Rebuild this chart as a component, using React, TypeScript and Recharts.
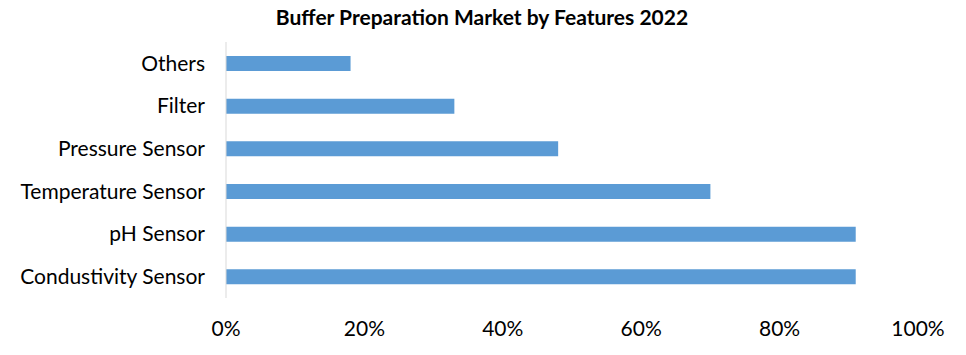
import { BarChart, Bar, XAxis, YAxis } from 'recharts'

const features = ['Others', 'Filter', 'Pressure Sensor', 'Temperature Sensor', 'pH Sensor', 'Condustivity Sensor']
const shares = [18, 33, 48, 70, 91, 91]
const xTicks = [0, 20, 40, 60, 80, 100]

const chartData = features.map((name, i) => ({ name, value: shares[i] }))

const font = 'Lato, "Open Sans", sans-serif'

export default function App() {
  return (
    <div style={{ position: 'absolute', left: 0, top: 0, width: 966, height: 355, background: '#fff', fontFamily: font }}>
      <div
        style={{
          position: 'absolute',
          left: 0,
          width: 964,
          top: 4,
          textAlign: 'center',
          fontWeight: 'bold',
          fontSize: 21,
          color: '#000',
        }}
      >
        Buffer Preparation Market by Features 2022
      </div>
      <BarChart
        width={966}
        height={355}
        data={chartData}
        layout="vertical"
        margin={{ top: 42, right: 48, bottom: 17, left: 0 }}
      >
        <XAxis
          type="number"
          domain={[0, 100]}
          ticks={xTicks}
          tickFormatter={(v: number) => `${v}%`}
          axisLine={false}
          tickLine={false}
          tickMargin={17}
          height={40}
          tick={{ fill: '#000', fontSize: 21, fontFamily: font }}
        />
        <YAxis
          type="category"
          dataKey="name"
          width={226}
          axisLine={{ stroke: '#d9d9d9' }}
          tickLine={false}
          tickMargin={15}
          tick={{ fill: '#000', fontSize: 21, fontFamily: font }}
        />
        <Bar dataKey="value" fill="#5b9bd5" barSize={15} isAnimationActive={false} />
      </BarChart>
    </div>
  )
}
